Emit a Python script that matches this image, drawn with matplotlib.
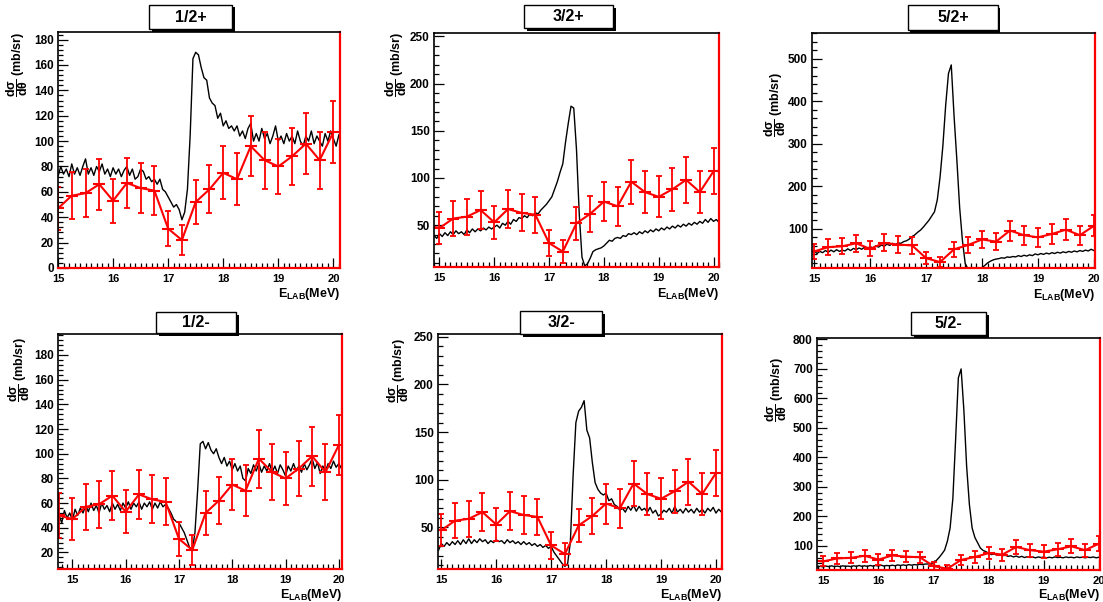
import numpy as np
import matplotlib
matplotlib.use("Agg")
import matplotlib.pyplot as plt
from matplotlib.patches import Rectangle
from matplotlib.ticker import MultipleLocator

plt.rcParams["font.family"] = ["Liberation Sans", "DejaVu Sans"]
plt.rcParams["font.weight"] = "bold"
plt.rcParams["mathtext.fontset"] = "custom"
plt.rcParams["mathtext.rm"] = "Liberation Sans:bold"
plt.rcParams["mathtext.it"] = "Liberation Sans:bold"
plt.rcParams["mathtext.bf"] = "Liberation Sans:bold"

W, H = 1103, 602

# calculated curves, one value every 50 keV from 14.75 to 20.10 MeV
e_theory = np.linspace(14.75, 20.10, 108)

xs_half_plus = [
    76, 79, 74, 78, 75, 72, 80, 74, 78, 72,
    82, 74, 79, 73, 80, 86, 74, 79, 73, 80,
    76, 82, 74, 78, 72, 79, 74, 78, 72, 77,
    80, 73, 78, 70, 72, 78, 76, 70, 72, 68,
    70, 66, 70, 62, 60, 56, 52, 48, 50, 46,
    38, 44, 62, 105, 165, 170, 168, 158, 150, 148,
    134, 130, 128, 118, 122, 112, 116, 110, 112, 108,
    112, 104, 108, 102, 110, 114, 100, 106, 100, 110,
    102, 106, 98, 104, 112, 100, 104, 98, 106, 100,
    104, 98, 108, 100, 96, 104, 100, 108, 98, 104,
    100, 96, 106, 100, 108, 102, 96, 105,
]

xs_three_plus = [
    38, 40, 37, 39, 36, 41, 38, 42, 39, 43,
    40, 44, 41, 43, 40, 45, 42, 46, 43, 46,
    44, 47, 45, 48, 46, 48, 50, 47, 52, 50,
    54, 51, 56, 54, 58, 57, 60, 58, 62, 60,
    63, 62, 66, 69, 72, 76, 80, 88, 96, 106,
    115, 138, 158, 176, 174, 130, 62, 16, 7, 9,
    15, 22, 24, 25, 26, 28, 31, 34, 33, 36,
    37, 36, 39, 38, 41, 40, 42, 40, 43, 41,
    44, 42, 45, 43, 46, 44, 47, 45, 48, 46,
    49, 47, 50, 48, 51, 49, 52, 50, 53, 51,
    54, 52, 56, 53, 57, 54, 56, 53,
]

xs_five_plus = [
    44, 46, 43, 47, 44, 48, 42, 47, 44, 49,
    45, 50, 46, 51, 47, 50, 48, 53, 49, 54,
    51, 55, 52, 57, 54, 58, 55, 60, 57, 62,
    59, 64, 61, 66, 63, 67, 66, 70, 72, 76,
    82, 86, 92, 97, 104, 112, 120, 130, 140, 168,
    222, 295, 390, 465, 485, 365, 262, 150, 72, 18,
    6, 2, 1, 2, 4, 9, 14, 20, 24, 27,
    29, 30, 32, 31, 34, 33, 35, 34, 37, 35,
    38, 36, 39, 37, 41, 39, 42, 40, 43, 41,
    44, 42, 45, 43, 46, 44, 47, 45, 48, 46,
    49, 47, 50, 48, 52, 49, 51, 48,
]

xs_half_minus = [
    50, 44, 54, 48, 52, 46, 55, 50, 56, 52,
    58, 53, 60, 54, 58, 52, 60, 55, 58, 53,
    60, 55, 59, 54, 60, 56, 61, 55, 60, 57,
    61, 55, 60, 57, 61, 55, 60, 56, 61, 57,
    59, 56, 52, 47, 45, 44, 40, 36, 30, 24,
    22, 36, 70, 108, 110, 104, 109, 103, 100, 104,
    97, 92, 97, 90, 94, 87, 92, 86, 90, 80,
    78, 88, 84, 91, 86, 92, 85, 90, 86, 92,
    85, 90, 84, 91, 87, 82, 90, 86, 92, 86,
    90, 85, 92, 87, 91, 96, 88, 93, 84, 90,
    86, 92, 88, 94, 89, 92, 88, 92,
]

xs_three_minus = [
    30, 27, 31, 28, 26, 33, 30, 34, 31, 35,
    32, 36, 32, 37, 33, 38, 33, 37, 34, 38,
    35, 37, 33, 36, 34, 37, 35, 36, 33, 37,
    34, 36, 33, 35, 32, 35, 32, 34, 31, 33,
    30, 32, 29, 31, 28, 30, 24, 20, 16, 12,
    9, 12, 35, 105, 160, 172, 176, 183, 152, 144,
    118, 97, 90, 86, 84, 86, 78, 80, 74, 72,
    68, 70, 66, 72, 68, 73, 67, 72, 68, 70,
    66, 71, 65, 68, 62, 64, 68, 66, 70, 65,
    72, 66, 69, 65, 70, 66, 69, 65, 70, 66,
    69, 65, 70, 67, 71, 65, 69, 66,
]

xs_five_minus = [
    30, 28, 31, 29, 30, 28, 31, 29, 32, 29,
    31, 29, 32, 30, 31, 29, 32, 30, 33, 30,
    32, 30, 33, 31, 33, 31, 34, 31, 33, 32,
    34, 32, 35, 33, 35, 33, 36, 34, 36, 35,
    37, 36, 38, 38, 40, 42, 50, 60, 72, 85,
    115, 160, 260, 460, 670, 700, 560, 370, 240, 160,
    128, 110, 92, 84, 80, 74, 70, 72, 68, 70,
    66, 68, 64, 66, 62, 65, 61, 64, 60, 63,
    60, 62, 59, 62, 60, 62, 59, 61, 59, 62,
    60, 61, 59, 62, 60, 61, 59, 62, 60, 61,
    59, 61, 60, 62, 59, 61, 60, 61,
]

# measured points
e_exp = [14.75, 15.0, 15.25, 15.5, 15.75, 16.0, 16.25, 16.5, 16.75, 17.0, 17.25,
         17.5, 17.75, 18.0, 18.25, 18.5, 18.75, 19.0, 19.25, 19.5, 19.75, 20.0]
xs_exp = [50, 47, 57, 59, 66, 53, 67, 63, 61, 31, 22,
          52, 62, 75, 70, 96, 85, 80, 88, 98, 85, 107]
err_exp = [18, 17, 18.5, 19, 20, 17.5, 20, 19.5, 19, 14, 12,
           17.5, 19, 21, 20.5, 23.5, 22.5, 21.7, 22.5, 24, 22.5, 24.5]

titles = ["1/2+", "3/2+", "5/2+", "1/2-", "3/2-", "5/2-"]
curves = [xs_half_plus, xs_three_plus, xs_five_plus,
          xs_half_minus, xs_three_minus, xs_five_minus]

# pixel layout: axes (l, t, r, b), title box (l, t, r, b), ylabel (x, top), xlabel top
layout = [
    dict(ax=(58, 32, 340, 268), box=(149, 5, 232, 29), yl=(17, 32), xl=286,
         xlim=(15.0, 20.12), ylim=(0, 186), step=20),
    dict(ax=(434, 33, 719, 267), box=(524, 5, 613, 28), yl=(396, 32), xl=286,
         xlim=(14.9, 20.1), ylim=(5.7, 253.5), step=50),
    dict(ax=(812, 33, 1095, 268), box=(908, 5, 998, 30), yl=(775, 72), xl=287,
         xlim=(14.96, 20.02), ylim=(8, 560), step=100),
    dict(ax=(58, 334, 342, 569), box=(156, 312, 236, 333), yl=(19, 337), xl=587,
         xlim=(14.73, 20.06), ylim=(6.6, 197), step=20),
    dict(ax=(438, 334, 722, 569), box=(520, 311, 602, 334), yl=(398, 338), xl=587,
         xlim=(14.94, 20.11), ylim=(6.3, 253), step=50),
    dict(ax=(817, 338, 1100, 570), box=(911, 312, 986, 335), yl=(776, 357), xl=587,
         xlim=(14.885, 20.02), ylim=(17.7, 805), step=100),
]


def fig_rect(l, t, r, b):
    return [l / W, 1 - b / H, (r - l) / W, (b - t) / H]


def title_box(fig, text, l, t, r, b):
    x, y, w, h = fig_rect(l, t, r, b)
    fig.add_artist(Rectangle((x + 2.5 / W, y - 2.5 / H), w, h, transform=fig.transFigure,
                             facecolor="black", edgecolor="none"))
    fig.add_artist(Rectangle((x, y), w, h, transform=fig.transFigure,
                             facecolor="white", edgecolor="black", lw=1.0))
    fig.text(x + w / 2, y + h / 2, text, ha="center", va="center",
             fontsize=11.5, fontweight="bold")


def main():
    fig = plt.figure(figsize=(W / 100, H / 100), dpi=100)

    for title, curve, lay in zip(titles, curves, layout):
        ax = fig.add_axes(fig_rect(*lay["ax"]))

        ax.plot(e_theory, curve, color="black", lw=1.0)
        ax.errorbar(e_exp, xs_exp, yerr=err_exp, fmt="none", ecolor="red",
                    elinewidth=1.3, capsize=2.5, capthick=1.3)
        ax.plot(e_exp, xs_exp, color="red", lw=1.5, marker="_", ms=8, mew=1.5)

        ax.set_xlim(*lay["xlim"])
        ax.set_ylim(*lay["ylim"])
        ax.xaxis.set_major_locator(MultipleLocator(1))
        ax.xaxis.set_minor_locator(MultipleLocator(0.1))
        ax.yaxis.set_major_locator(MultipleLocator(lay["step"]))
        ax.yaxis.set_minor_locator(MultipleLocator(lay["step"] / 5))
        ax.tick_params(which="both", direction="in", top=False, right=False,
                       labelsize=8.5, color="black")
        ax.tick_params(which="major", length=7, width=0.9, pad=3)
        ax.tick_params(which="minor", length=3.5, width=0.9)
        ax.tick_params(axis="x", which="major", pad=4, labelsize=8)

        for side in ["left", "top"]:
            ax.spines[side].set_color("black")
            ax.spines[side].set_linewidth(1.2)
        for side in ["bottom", "right"]:
            ax.spines[side].set_color("red")
            ax.spines[side].set_linewidth(1.6)

        title_box(fig, title, *lay["box"])

        yx, ytop = lay["yl"]
        fig.text(yx / W, 1 - ytop / H, r"$\dfrac{d\sigma}{d\theta}$ (mb/sr)",
                 rotation=90, ha="center", va="top", fontsize=9, fontweight="bold")
        r = lay["ax"][2]
        fig.text(r / W, 1 - lay["xl"] / H, r"E$_{\mathregular{LAB}}$(MeV)",
                 ha="right", va="top", fontsize=9, fontweight="bold")

    fig.savefig("out.png", dpi=100)


if __name__ == "__main__":
    main()
